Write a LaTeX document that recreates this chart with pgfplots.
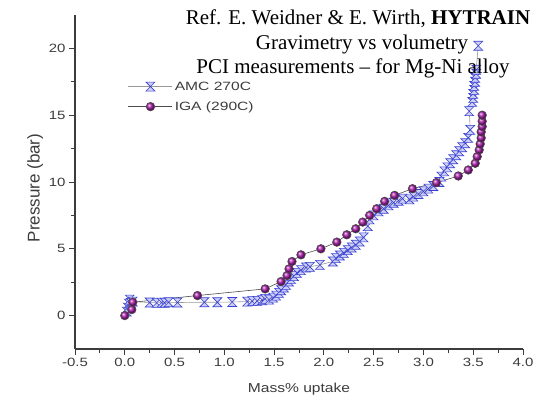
\documentclass[border=0pt]{standalone}
\usepackage{graphicx}
\usepackage{pgfplots}
\pgfplotsset{compat=1.18}
\usepackage{fontspec}
\setmainfont{Liberation Serif}
\newfontfamily\arial{Liberation Sans}
\usetikzlibrary{plotmarks}
\definecolor{amcblue}{RGB}{55,65,210}
\definecolor{amcfill}{RGB}{205,205,245}
\definecolor{igapurple}{RGB}{165,25,165}
\definecolor{axisgray}{RGB}{60,60,60}
\pgfdeclareplotmark{hourx}{%
  \pgfpathmoveto{\pgfqpoint{-\pgfplotmarksize}{-\pgfplotmarksize}}%
  \pgfpathlineto{\pgfqpoint{\pgfplotmarksize}{\pgfplotmarksize}}%
  \pgfpathlineto{\pgfqpoint{-\pgfplotmarksize}{\pgfplotmarksize}}%
  \pgfpathlineto{\pgfqpoint{\pgfplotmarksize}{-\pgfplotmarksize}}%
  \pgfpathclose
  \pgfusepathqfillstroke
}
\begin{document}
\begin{tikzpicture}
\begin{axis}[
  at={(75pt,50pt)}, anchor=south west,
  scale only axis, width=448pt, height=334pt,
  xmin=-0.5, xmax=4, ymin=-2.5, ymax=22.5,
  axis lines*=left,
  axis line style={axisgray, line width=1.1pt},
  tick align=outside,
  tick style={axisgray, line width=0.9pt},
  major tick length=6pt, minor tick length=4pt,
  xtick={-0.5,0,0.5,1,1.5,2,2.5,3,3.5,4},
  ytick={0,5,10,15,20},
  minor x tick num=1, minor y tick num=1,
  /pgf/number format/assume math mode=true,
  xticklabel={\scalebox{1.25}[1]{\pgfmathprintnumber[fixed,fixed zerofill,precision=1]{\tick}}},
  yticklabel={\scalebox{1.25}[1]{\pgfmathprintnumber{\tick}}},
  tick label style={font=\arial\fontsize{12}{14}\selectfont, text=axisgray},
  xlabel={\scalebox{1.2}[1]{Mass\% uptake}},
  ylabel={Pressure (bar)},
  xlabel style={at={(axis description cs:0.5,-0.12)}, anchor=center, font=\arial\fontsize{13}{15}\selectfont, text=axisgray},
  ylabel style={at={(axis description cs:-0.089,0.482)}, anchor=center, font=\arial\fontsize{17}{19}\selectfont, text=axisgray},
  legend style={at={(axis description cs:0.116,0.81)}, anchor=north west, draw=none, fill=none,
    font=\arial\fontsize{12}{14}\selectfont, row sep=6pt, inner sep=1pt,
    nodes={text=axisgray}},
  legend cell align=left,
  legend image code/.code={\draw[mark repeat=2,mark phase=2,#1] plot coordinates {(0pt,0pt) (22pt,0pt) (44pt,0pt)};},
  clip=false,
]
\addplot[color=gray!80, line width=0.6pt, mark=hourx, mark size=4.5pt,
  mark options={draw=amcblue, fill=amcfill, line width=0.6pt}] coordinates {
(0.02,0.3) (0.03,0.6) (0.04,0.9) (0.05,1.2) (0.06,0.95) (0.08,1.05)
(0.25,0.98) (0.32,0.95) (0.37,0.97) (0.40,0.96) (0.44,1.0) (0.53,0.98)
(0.80,1.0) (0.93,1.0) (1.08,1.02) (1.23,1.05) (1.28,1.08) (1.33,1.1)
(1.38,1.15) (1.41,1.25) (1.45,1.2) (1.49,1.35) (1.52,1.5) (1.55,1.7)
(1.57,1.9) (1.60,2.1) (1.62,2.3) (1.65,2.55) (1.67,2.75) (1.70,2.95)
(1.73,3.2) (1.77,3.4) (1.82,3.6) (1.86,3.65) (1.96,3.8) (2.09,4.05)
(2.12,4.3) (2.16,4.5) (2.20,4.7) (2.24,4.9) (2.28,5.1) (2.32,5.3)
(2.36,5.55) (2.40,5.85) (2.44,6.7) (2.46,7.2) (2.50,7.5) (2.55,7.8)
(2.60,8.0) (2.65,8.25) (2.70,8.45) (2.75,8.6) (2.79,8.75) (2.86,8.7)
(2.90,8.9) (2.95,9.1) (3.00,9.3) (3.05,9.5) (3.10,9.7) (3.16,10.0)
(3.18,10.4) (3.21,10.8) (3.24,11.1) (3.27,11.4) (3.30,11.7) (3.33,12.0)
(3.36,12.3) (3.39,12.6) (3.42,12.9) (3.45,13.3) (3.47,13.9) (3.46,15.3)
(3.49,16.0) (3.50,16.3) (3.50,16.6) (3.51,16.9) (3.51,17.2) (3.52,17.5)
(3.52,17.8) (3.53,18.1) (3.53,18.4) (3.55,20.2)
};
\addlegendentry{\scalebox{1.3}[1]{AMC 270C}}
\addplot[color=black!70, line width=0.6pt, mark=ball, mark size=4.3pt,
  mark options={ball color=igapurple}] coordinates {
(0.0,0.0) (0.07,0.45) (0.08,1.0) (0.73,1.5) (1.41,2.0) (1.57,2.55)
(1.63,3.0) (1.65,3.5) (1.68,4.05) (1.77,4.55) (1.97,5.0) (2.13,5.5)
(2.23,6.05) (2.32,6.5) (2.39,7.0) (2.46,7.5) (2.53,8.0) (2.61,8.55)
(2.71,9.0) (2.89,9.5) (3.13,9.95) (3.35,10.45) (3.45,10.9) (3.52,11.4)
(3.54,11.9) (3.56,12.4) (3.57,12.85) (3.58,13.3) (3.58,13.75) (3.59,14.15)
(3.59,14.55) (3.59,15.0)
};
\addlegendentry{\scalebox{1.3}[1]{IGA (290C)}}
\end{axis}
\node[anchor=base, font=\fontsize{21}{24}\selectfont, inner sep=0pt] at (358pt,374pt) {Ref. E. Weidner \& E. Wirth, \textbf{HYTRAIN}};
\node[anchor=base, font=\fontsize{21}{24}\selectfont, inner sep=0pt] at (362pt,349pt) {Gravimetry vs volumetry};
\node[anchor=base, font=\fontsize{21}{24}\selectfont, inner sep=0pt] at (353pt,325pt) {PCI measurements – for Mg-Ni alloy};
\pgfresetboundingbox
\path (0,0) rectangle (546pt,399pt);
\end{tikzpicture}
\end{document}
